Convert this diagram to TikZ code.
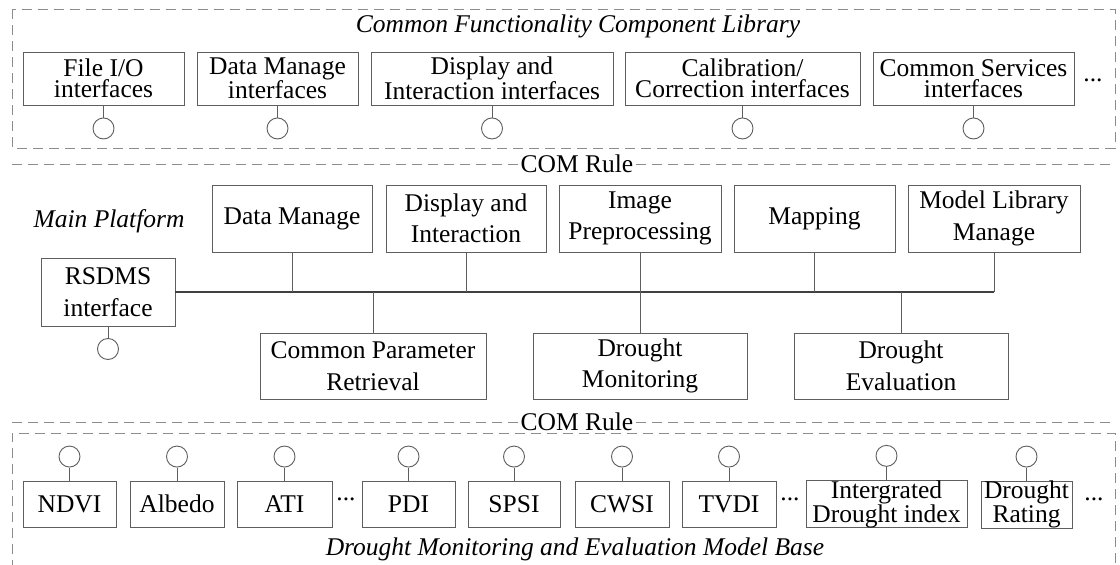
\documentclass[tikz,border=0pt]{standalone}
\usepackage{fontspec}
\setmainfont{Liberation Serif}
\definecolor{boxgray}{HTML}{5E5E5E}
\definecolor{dashgray}{HTML}{8C8C8C}
\definecolor{busgray}{HTML}{404040}
\tikzset{
  box/.style={draw=boxgray, line width=0.9pt, inner sep=0pt, align=center,
    font=\fontsize{25.5}{20}\selectfont, text=black},
  tbox/.style={box, font=\fontsize{25.5}{21}\selectfont},
  mbox/.style={box, font=\fontsize{25.5}{31.5}\selectfont},
  port/.style={circle, draw=boxgray, line width=0.9pt, minimum size=21pt, inner sep=0pt},
  conn/.style={draw=boxgray, line width=0.9pt},
  bus/.style={draw=busgray, line width=2pt},
  dashframe/.style={draw=dashgray, line width=1pt, dash pattern=on 10pt off 6pt},
  ttl/.style={font=\fontsize{25.5}{30}\selectfont\itshape, anchor=base, inner sep=0pt},
  comlbl/.style={font=\fontsize{25.5}{30}\selectfont, anchor=base, fill=white, inner xsep=1.5pt, inner ysep=1pt},
  dotsn/.style={font=\fontsize{25.5}{30}\selectfont, anchor=base, inner sep=0pt},
}
\begin{document}
\begin{tikzpicture}[x=1pt,y=-1pt]
\useasboundingbox[fill=white] (0,0) rectangle (1120,565);

% ---------- top frame ----------
\draw[dashframe] (12,9) rectangle (1115,148);
\node[ttl] (t1) at (578,32) {Common Functionality Component Library};

\node[tbox, minimum width=161pt, minimum height=53pt] (b1) at (103.5,78.5) {File I/O\\interfaces};
\node[tbox, minimum width=161pt, minimum height=53pt] (b2) at (277.5,78.5) {Data Manage\\interfaces};
\node[tbox, minimum width=242pt, minimum height=53pt] (b3) at (492,78.5) {Display and\\Interaction interfaces};
\node[tbox, minimum width=235pt, minimum height=53pt] (b4) at (742.5,78.5) {Calibration/\\Correction interfaces};
\node[tbox, minimum width=201pt, minimum height=53pt] (b5) at (973.5,78.5) {Common Services\\interfaces};
\node[dotsn] (d0) at (1093,81.5) {...};

\foreach \b in {b1,b2,b3,b4,b5}{
  \node[port] (p\b) at ([yshift=-23pt]\b.south) {};
  \draw[conn] (\b.south) -- (p\b.north);
}

% ---------- COM rule 1 ----------
\draw[dashframe] (12,164) -- (1115,164);
\node[comlbl] (c1lbl) at (577,172) {COM Rule};

% ---------- main platform ----------
\node[ttl] (t2) at (109,227) {Main Platform};

\node[mbox, minimum width=160pt, minimum height=67pt] (m1) at (292,218.5) {Data Manage};
\node[mbox, minimum width=160pt, minimum height=67pt] (m2) at (466,218.5) {Display and\\Interaction};
\node[mbox, minimum width=162pt, minimum height=67pt] (m3) at (640,218.5) {Image\\Preprocessing};
\node[mbox, minimum width=161pt, minimum height=67pt] (m4) at (814.5,218.5) {Mapping};
\node[mbox, minimum width=172pt, minimum height=67pt] (m5) at (994,218.5) {Model Library\\Manage};

\node[mbox, minimum width=134pt, minimum height=68pt] (rs) at (108,292) {RSDMS\\interface};
\node[port] (prs) at (108,349) {};
\draw[conn] (rs.south) -- (prs.north);

\node[mbox, minimum width=226pt, minimum height=66pt] (n1) at (373,366) {Common Parameter\\Retrieval};
\node[mbox, minimum width=214pt, minimum height=66pt] (n2) at (640,366) {Drought\\Monitoring};
\node[mbox, minimum width=214pt, minimum height=66pt] (n3) at (901,366) {Drought\\Evaluation};

\coordinate (busend) at (994,292);
\draw[bus] (rs.east) -- (busend);
\draw[conn] (m1.south) -- (m1.south |- rs.east);
\draw[conn] (m2.south) -- (m2.south |- rs.east);
\draw[conn] (m3.south) -- (n2.north);
\draw[conn] (m4.south) -- (m4.south |- rs.east);
\draw[conn] (m5.south) -- (busend);
\draw[conn] (n1.north) -- (n1.north |- rs.east);
\draw[conn] (n3.north) -- (n3.north |- rs.east);

% ---------- COM rule 2 ----------
\draw[dashframe] (12,422) -- (1115,422);
\node[comlbl] (c2lbl) at (577,430) {COM Rule};

% ---------- bottom frame ----------
\draw[dashframe] (12,570) -- (12,433) -- (1115,433) -- (1115,570);
\node[ttl] (t3) at (575,555) {Drought Monitoring and Evaluation Model Base};

\node[box, minimum width=93pt, minimum height=46pt] (q1) at (69.5,504) {NDVI};
\node[box, minimum width=94pt, minimum height=46pt] (q2) at (177,504) {Albedo};
\node[box, minimum width=95pt, minimum height=46pt] (q3) at (284.5,504) {ATI};
\node[box, minimum width=93pt, minimum height=46pt] (q4) at (408.5,504) {PDI};
\node[box, minimum width=92pt, minimum height=46pt] (q5) at (514,504) {SPSI};
\node[box, minimum width=94pt, minimum height=46pt] (q6) at (622,504) {CWSI};
\node[box, minimum width=94pt, minimum height=46pt] (q7) at (729,504) {TVDI};
\node[box, minimum width=161pt, minimum height=46pt] (q8) at (886.5,504) {Intergrated\\Drought index};
\node[box, minimum width=91pt, minimum height=47pt] (q9) at (1026.5,504.5) {Drought\\Rating};

\node[dotsn] (d1) at (346,500.5) {...};
\node[dotsn] (d2) at (790,500.5) {...};
\node[dotsn] (d3) at (1094,500.5) {...};

\foreach \q in {q1,q2,q3,q4,q5,q6,q7,q8,q9}{
  \node[port] (p\q) at ([yshift=24pt]\q.north) {};
  \draw[conn] (\q.north) -- (p\q.south);
}
\end{tikzpicture}
\end{document}
